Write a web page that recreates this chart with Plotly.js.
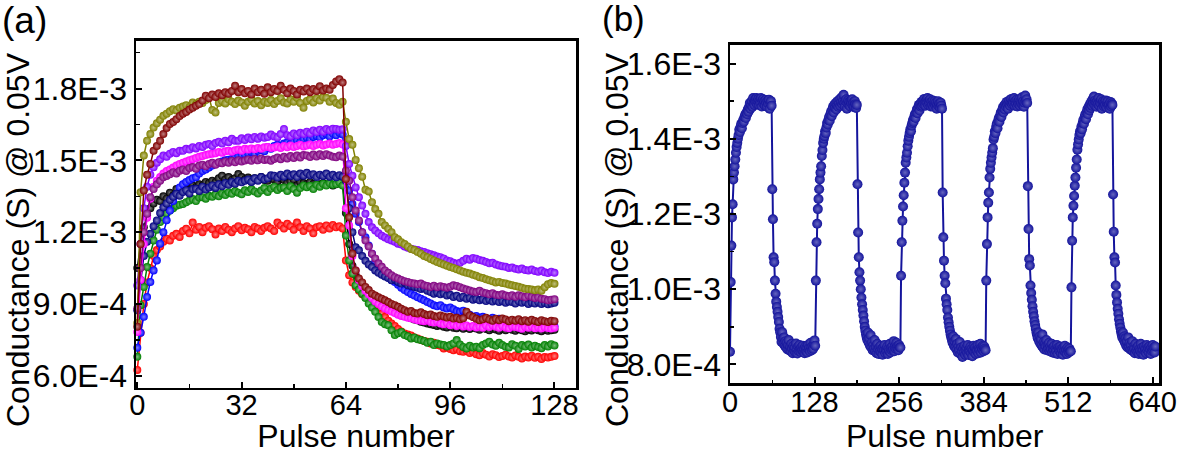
<!DOCTYPE html>
<html>
<head>
<meta charset="utf-8">
<script src="https://cdn.plot.ly/plotly-3.0.1.min.js"></script>
<style>
  html, body { margin: 0; padding: 0; background: #ffffff; }
  #chart { width: 1180px; height: 454px; }
</style>
</head>
<body>
<div id="chart"></div>
<script>
// Conductance read at 0.05 V, stored in microsiemens (µS); converted to S when plotted.
// Panel (a): ten devices, pulses 0..63 potentiation, 64..128 depression.
const condRed = [624,780,900,990,1050,1100,1125,1140,1160,1172,1165,1185,1193,1180,1205,1214,1195,1240,1210,1222,
  1200,1218,1225,1212,1190,1215,1205,1222,1210,1200,1215,1225,1208,1218,1212,1200,1222,1215,1205,1218,
  1225,1215,1205,1240,1228,1215,1235,1225,1210,1240,1220,1205,1225,1215,1195,1220,1225,1210,1228,1215,
  1230,1220,1225,1215,
  1082,1020,990,971,955,940,929,915,900,885,874,860,845,830,818,808,795,785,777,772,
  768,760,756,750,745,742,735,738,728,725,714,718,712,707,712,702,700,705,695,700,
  690,686,695,688,680,690,686,678,682,688,680,676,685,679,672,680,676,684,675,679,
  670,678,676,679,682];

const condGreen = [679,895,971,1054,1110,1165,1210,1242,1262,1278,1290,1300,1310,1315,1318,1325,1332,1338,1330,1345,
  1346,1340,1352,1348,1358,1350,1362,1355,1367,1360,1372,1365,1358,1375,1368,1380,1370,1362,1374,1385,
  1368,1382,1390,1376,1385,1387,1372,1392,1380,1365,1384,1395,1388,1394,1380,1398,1390,1402,1395,1405,
  1398,1401,1408,1395,
  1186,1082,1027,978,960,943,925,902,885,867,845,825,815,811,790,770,778,783,770,765,
  756,760,752,749,745,738,742,728,735,730,728,722,728,735,749,730,720,714,725,718,
  721,715,728,735,742,730,725,738,728,721,718,732,725,712,728,722,730,718,725,720,
  715,728,722,732,726];

const condBlue = [717,780,846,929,992,1040,1082,1152,1200,1250,1290,1330,1360,1387,1400,1410,1418,1425,1429,1445,
  1455,1462,1470,1478,1485,1490,1495,1500,1503,1506,1512,1518,1522,1525,1530,1535,1528,1540,1545,1538,
  1555,1548,1560,1565,1558,1570,1575,1568,1580,1585,1578,1590,1595,1588,1598,1602,1595,1605,1610,1600,
  1612,1605,1615,1608,
  1429,1374,1318,1277,1242,1200,1179,1144,1110,1075,1058,1040,1025,1010,1000,992,980,968,958,950,
  942,935,928,922,915,908,902,895,890,895,885,881,885,878,870,867,872,860,855,846,
  850,842,846,839,835,842,832,838,830,832,825,828,822,818,812,808,804,815,810,805,
  800,808,803,800,806];

const condBlack = [1050,1150,1220,1270,1300,1320,1335,1330,1350,1340,1365,1353,1380,1360,1385,1392,1378,1395,1388,1400,
  1395,1410,1405,1415,1408,1425,1436,1420,1430,1418,1425,1443,1430,1420,1428,1415,1425,1420,1430,1418,
  1415,1428,1420,1412,1425,1418,1405,1412,1420,1395,1410,1405,1400,1410,1401,1395,1400,1405,1398,1402,
  1395,1400,1405,1398,
  1280,1150,1060,1020,995,980,964,950,940,925,915,905,895,885,878,870,862,855,850,845,
  840,835,832,826,822,818,815,812,808,811,805,802,808,800,798,805,796,800,795,802,
  797,792,800,795,790,797,793,788,795,790,798,792,788,795,790,786,793,789,795,790,
  786,792,788,790,792];

const condNavy = [874,1000,1100,1160,1193,1225,1249,1280,1304,1320,1335,1348,1360,1352,1368,1375,1362,1380,1381,1372,
  1390,1378,1387,1395,1385,1400,1392,1405,1398,1410,1402,1415,1408,1415,1420,1410,1425,1415,1430,1420,
  1425,1438,1436,1428,1440,1432,1445,1435,1442,1430,1445,1436,1448,1438,1442,1430,1440,1435,1445,1432,
  1440,1429,1438,1432,
  1415,1300,1200,1137,1124,1100,1080,1065,1054,1040,1030,1022,1015,1008,999,1003,992,985,990,978,
  975,971,968,962,965,955,950,943,948,940,945,935,938,929,934,925,930,922,926,918,
  922,915,920,912,918,910,915,908,912,905,910,908,902,912,905,908,900,906,902,908,
  900,904,899,902,905];

const condMagenta = [783,1000,1150,1260,1340,1390,1415,1430,1445,1455,1462,1470,1478,1485,1490,1495,1500,1505,1510,1515,
  1518,1522,1525,1528,1530,1535,1532,1538,1540,1536,1542,1545,1540,1548,1545,1550,1546,1552,1548,1555,
  1556,1552,1554,1558,1552,1560,1555,1562,1556,1560,1565,1558,1562,1566,1560,1565,1568,1562,1566,1570,
  1565,1568,1572,1566,
  1300,1228,1100,1040,1000,975,955,940,925,910,900,890,881,875,868,862,855,850,846,842,
  840,836,832,830,828,832,825,822,826,818,815,820,811,815,808,812,806,810,804,808,
  802,806,800,810,804,811,805,800,808,802,798,806,804,800,796,804,800,806,798,802,
  797,803,799,797,801];

const condViolet = [977,1150,1300,1390,1440,1471,1490,1505,1520,1515,1528,1535,1530,1540,1540,1548,1545,1555,1550,1560,
  1556,1565,1568,1560,1572,1578,1570,1582,1576,1590,1582,1582,1592,1585,1595,1588,1598,1590,1600,1594,
  1598,1608,1600,1596,1610,1631,1605,1600,1612,1605,1615,1610,1620,1612,1625,1618,1628,1620,1631,1625,
  1632,1631,1628,1630,
  1560,1485,1436,1387,1346,1311,1277,1242,1220,1207,1195,1185,1178,1170,1165,1160,1152,1148,1140,1135,
  1131,1128,1125,1120,1117,1112,1108,1103,1098,1095,1090,1082,1078,1072,1068,1072,1080,1089,1085,1092,
  1089,1084,1080,1075,1070,1072,1065,1061,1058,1055,1050,1052,1047,1044,1048,1042,1040,1044,1038,1035,
  1040,1032,1029,1035,1030];

const condPurple = [882,1050,1200,1277,1346,1380,1400,1415,1429,1435,1442,1450,1445,1457,1462,1455,1468,1472,1465,1478,
  1482,1475,1485,1490,1482,1492,1488,1495,1490,1498,1492,1500,1495,1499,1504,1498,1506,1500,1508,1502,
  1504,1498,1506,1512,1505,1515,1508,1518,1510,1520,1512,1522,1520,1514,1524,1516,1525,1518,1526,1520,
  1515,1513,1520,1515,
  1457,1415,1346,1290,1249,1200,1165,1140,1110,1090,1070,1055,1040,1030,1020,1012,1006,1000,995,992,
  988,985,982,985,978,975,971,976,970,974,971,968,972,978,975,970,965,960,956,952,
  950,955,948,945,940,945,938,936,940,935,932,936,930,936,932,928,935,930,925,928,
  922,920,915,918,920];

const condMaroon = [805,1150,1374,1440,1485,1540,1560,1582,1610,1635,1652,1660,1672,1685,1695,1702,1712,1720,1728,1735,
  1750,1770,1760,1775,1765,1780,1772,1785,1778,1790,1812,1785,1798,1780,1790,1775,1800,1785,1795,1778,
  1805,1785,1798,1790,1812,1795,1780,1800,1790,1775,1795,1788,1800,1785,1798,1790,1810,1792,1800,1795,
  1815,1830,1839,1825,
  1422,1262,1110,1040,1006,990,971,958,943,935,928,922,915,908,900,895,888,880,874,867,
  870,862,860,865,858,853,856,850,846,852,848,843,846,839,842,836,840,867,852,845,
  838,832,836,842,835,830,838,832,839,835,828,834,830,836,828,832,826,834,829,825,
  832,828,825,830,828];

const condOlive = [820,1367,1520,1582,1610,1637,1655,1670,1686,1695,1705,1714,1708,1720,1725,1730,1722,1742,1735,1745,
  1740,1752,1765,1710,1700,1740,1748,1738,1755,1745,1735,1750,1742,1728,1745,1755,1738,1748,1730,1745,
  1740,1752,1735,1748,1760,1742,1738,1755,1745,1762,1740,1720,1748,1755,1742,1760,1750,1765,1762,1745,
  1758,1740,1732,1745,
  1661,1589,1565,1502,1467,1432,1377,1370,1325,1297,1277,1242,1228,1214,1200,1179,1170,1158,1150,1140,
  1130,1125,1117,1110,1100,1095,1088,1082,1075,1070,1065,1060,1054,1050,1045,1040,1035,1030,1027,1022,
  1018,1012,1008,1003,999,995,990,992,988,985,981,978,975,972,968,964,962,960,957,960,
  955,970,982,987,984];

// Panel (b): five potentiation/depression cycles of 129 pulses on one device.
const condCycles = [
  // cycle 1
  834,1019,1116,1191,1226,1292,1310,1327,1345,1363,1378,1389,1400,1410,1424,1418,1432,1440,1428,1442,
  1450,1445,1458,1464,1455,1470,1465,1478,1472,1485,1495,1480,1490,1500,1485,1508,1495,1490,1504,1498,
  1508,1492,1500,1506,1490,1502,1495,1508,1486,1500,1505,1492,1500,1488,1503,1496,1485,1500,1493,1504,
  1480,1495,1500,1488,
  1266,1186,1085,1072,1023,988,967,953,940,926,913,895,886,873,860,886,868,855,872,850,
  862,845,858,840,852,865,838,848,835,855,842,830,850,838,845,832,856,840,829,848,
  836,852,840,833,846,838,850,835,842,830,848,836,845,832,852,840,845,835,858,845,
  838,850,842,855,864,
  // cycle 2
  850,1023,1125,1174,1213,1240,1266,1292,1310,1327,1354,1370,1389,1400,1407,1420,1415,1430,1442,1438,
  1450,1458,1448,1465,1472,1460,1478,1485,1470,1490,1482,1495,1478,1490,1500,1485,1495,1505,1488,1498,
  1510,1492,1500,1517,1495,1486,1500,1505,1480,1495,1502,1490,1498,1486,1500,1494,1505,1488,1497,1484,
  1500,1492,1482,1490,
  1279,1151,1085,1045,1023,1000,978,960,945,930,915,900,890,880,872,865,885,858,870,850,
  878,845,860,838,852,842,865,835,848,830,855,840,828,846,835,850,832,842,826,845,
  838,852,830,840,835,848,828,842,836,855,832,845,838,850,840,862,835,848,842,858,
  845,850,838,852,845,
  // cycle 3
  845,1036,1125,1182,1220,1250,1283,1310,1336,1350,1363,1380,1395,1405,1415,1425,1420,1435,1442,1450,
  1445,1458,1465,1455,1470,1478,1468,1482,1490,1475,1492,1485,1498,1488,1500,1492,1506,1495,1488,1502,
  1496,1508,1490,1500,1494,1505,1486,1498,1490,1502,1485,1495,1500,1488,1496,1480,1492,1500,1486,1494,
  1482,1496,1488,1480,
  1257,1138,1076,1036,1016,975,960,945,925,912,900,890,880,872,865,858,875,850,862,845,
  868,840,855,832,848,838,860,828,845,835,820,842,832,850,826,838,845,830,852,825,
  840,835,848,830,842,822,838,850,832,845,828,840,836,852,830,843,838,855,832,846,
  840,850,835,848,842,
  // cycle 4
  838,1023,1120,1191,1230,1257,1297,1320,1336,1350,1363,1375,1398,1405,1420,1415,1432,1440,1428,1448,
  1455,1445,1462,1470,1458,1475,1482,1470,1488,1478,1492,1485,1498,1490,1480,1495,1502,1488,1498,1506,
  1492,1500,1495,1508,1488,1500,1494,1504,1486,1498,1492,1505,1488,1500,1494,1510,1490,1500,1485,1496,
  1515,1500,1505,1495,
  1274,1160,1080,1063,1010,990,972,955,940,928,915,905,895,885,878,870,885,862,875,855,
  868,850,880,845,860,840,855,848,865,838,852,842,858,835,848,840,855,832,845,838,
  850,830,842,836,852,828,845,840,835,848,830,842,838,826,845,835,850,832,840,828,
  845,838,832,842,835,
  // cycle 5
  835,1005,1129,1191,1222,1248,1275,1297,1323,1345,1371,1385,1398,1410,1420,1415,1432,1425,1442,1450,
  1440,1458,1465,1452,1470,1478,1465,1485,1475,1492,1482,1498,1488,1505,1495,1512,1490,1502,1496,1485,
  1500,1492,1508,1488,1498,1494,1505,1480,1495,1500,1486,1496,1490,1502,1484,1495,1500,1488,1492,1480,
  1498,1486,1494,1490,
  1252,1153,1085,1071,1010,985,965,948,935,920,908,898,888,880,872,885,865,875,858,870,
  850,862,845,872,848,858,840,852,838,862,835,848,842,830,855,838,845,832,850,828,
  842,836,855,830,845,838,826,848,835,842,830,852,838,845,832,848,840,828,845,835,
  852,838,845,832,848
];

// Axis ticks
const ticksXA = [0, 32, 64, 96, 128];
const minorXA = [16, 48, 80, 112];
const ticksYA = [6e-4, 9e-4, 1.2e-3, 1.5e-3, 1.8e-3];
const labelsYA = ['6.0E-4', '9.0E-4', '1.2E-3', '1.5E-3', '1.8E-3'];
const minorYA = [7.5e-4, 1.05e-3, 1.35e-3, 1.65e-3, 1.95e-3];

const ticksXB = [0, 128, 256, 384, 512, 640];
const minorXB = [64, 192, 320, 448, 576];
const ticksYB = [8e-4, 1.0e-3, 1.2e-3, 1.4e-3, 1.6e-3];
const labelsYB = ['8.0E-4', '1.0E-3', '1.2E-3', '1.4E-3', '1.6E-3'];
const minorYB = [9e-4, 1.1e-3, 1.3e-3, 1.5e-3];

const xTitle = 'Pulse number';
const yTitle = 'Conductance (S) @ 0.05V';

const seriesA = [
  { name: 'black',   y: condBlack,   color: '#000000' },
  { name: 'red',     y: condRed,     color: '#ff0000' },
  { name: 'green',   y: condGreen,   color: '#008000' },
  { name: 'blue',    y: condBlue,    color: '#0000ff' },
  { name: 'navy',    y: condNavy,    color: '#000080' },
  { name: 'magenta', y: condMagenta, color: '#ff00ff' },
  { name: 'violet',  y: condViolet,  color: '#8000ff' },
  { name: 'purple',  y: condPurple,  color: '#800080' },
  { name: 'olive',   y: condOlive,   color: '#808000' },
  { name: 'wine',    y: condMaroon,  color: '#800000' }
];

const toS = v => v * 1e-6;
const pulseIndex = arr => arr.map((_, i) => i);

// lighter tone used at the centre of each ball marker
function tint(hex, f) {
  const n = parseInt(hex.slice(1), 16);
  const r = (n >> 16) & 255, g = (n >> 8) & 255, b = n & 255;
  const m = c => Math.round(c + (255 - c) * f);
  return 'rgb(' + m(r) + ',' + m(g) + ',' + m(b) + ')';
}

const traces = seriesA.map(s => ({
  type: 'scatter', mode: 'lines+markers', name: s.name,
  x: pulseIndex(s.y), y: s.y.map(toS),
  xaxis: 'x', yaxis: 'y', cliponaxis: false,
  line: { color: s.color, width: 1.5 },
  marker: { size: 8, color: s.color, line: { width: 0 },
            gradient: { type: 'radial', color: tint(s.color, 0.5) } },
  showlegend: false
}));

const colorB = '#14149c';
traces.push({
  type: 'scatter', mode: 'lines+markers', name: 'cycles',
  x: pulseIndex(condCycles), y: condCycles.map(toS),
  xaxis: 'x2', yaxis: 'y2',
  line: { color: colorB, width: 2 },
  marker: { size: 10, color: colorB, line: { width: 0 },
            gradient: { type: 'radial', color: tint(colorB, 0.35) } },
  showlegend: false
});

const W = 1180, H = 454;
const FAMILY = 'Liberation Sans, Arial, sans-serif';
const xTickFont = { family: FAMILY, size: 29, color: '#000' };
const yTickFont = { family: FAMILY, size: 32, color: '#000' };
const titleFont = { family: FAMILY, size: 32, color: '#000' };

function axisBase(extra) {
  return Object.assign({
    showline: true, linecolor: '#000', linewidth: 2.5, mirror: true,
    ticks: 'inside', ticklen: 6, tickwidth: 2, tickcolor: '#000',
    showgrid: false, zeroline: false, automargin: false, tickmode: 'array'
  }, extra);
}
const minorTicks = vals => ({ tickmode: 'array', tickvals: vals, ticks: 'inside',
                              ticklen: 3.5, tickwidth: 1.5, tickcolor: '#000' });

const layout = {
  width: W, height: H,
  margin: { l: 0, r: 0, t: 0, b: 0 },
  paper_bgcolor: '#fff', plot_bgcolor: '#fff',
  xaxis: axisBase({
    domain: [136 / W, 576 / W], anchor: 'y', range: [-0.4, 134.6],
    tickvals: ticksXA, ticktext: ticksXA.map(String), tickfont: xTickFont,
    ticklabelstandoff: -10, minor: minorTicks(minorXA),
    title: { text: xTitle, font: titleFont, standoff: 3 }
  }),
  yaxis: axisBase({
    domain: [1 - 387.7 / H, 1 - 40.7 / H], anchor: 'x', range: [5.5e-4, 2.0e-3],
    tickvals: ticksYA, ticktext: labelsYA, tickfont: yTickFont,
    minor: minorTicks(minorYA)
  }),
  xaxis2: axisBase({
    domain: [730 / W, 1159.3 / W], anchor: 'y2', range: [0, 650],
    tickvals: ticksXB, ticktext: ticksXB.map(String), tickfont: xTickFont,
    ticklabelstandoff: -9, minor: minorTicks(minorXB),
    title: { text: xTitle, font: titleFont, standoff: 2 }
  }),
  yaxis2: axisBase({
    domain: [1 - 383.3 / H, 1 - 44.7 / H], anchor: 'x2', range: [7.5e-4, 1.65e-3],
    tickvals: ticksYB, ticktext: labelsYB, tickfont: yTickFont,
    minor: minorTicks(minorYB)
  }),
  annotations: [
    // vertical axis titles, placed beside the tick labels
    { text: yTitle, textangle: -90, xref: 'paper', yref: 'paper',
      x: 18 / W, y: 1 - 240 / H, xanchor: 'center', yanchor: 'middle', showarrow: false,
      font: titleFont },
    { text: yTitle, textangle: -90, xref: 'paper', yref: 'paper',
      x: 617 / W, y: 1 - 240 / H, xanchor: 'center', yanchor: 'middle', showarrow: false,
      font: titleFont },
    // panel letters
    { text: '(a)', xref: 'paper', yref: 'paper', x: 0, y: 1 - 20 / H,
      xanchor: 'left', yanchor: 'middle', showarrow: false,
      font: { family: FAMILY, size: 37, color: '#000' } },
    { text: '(b)', xref: 'paper', yref: 'paper', x: 600 / W, y: 1 - 19 / H,
      xanchor: 'left', yanchor: 'middle', showarrow: false,
      font: { family: FAMILY, size: 35, color: '#000' } }
  ]
};

Plotly.newPlot('chart', traces, layout, { staticPlot: true, displayModeBar: false });
</script>
</body>
</html>
